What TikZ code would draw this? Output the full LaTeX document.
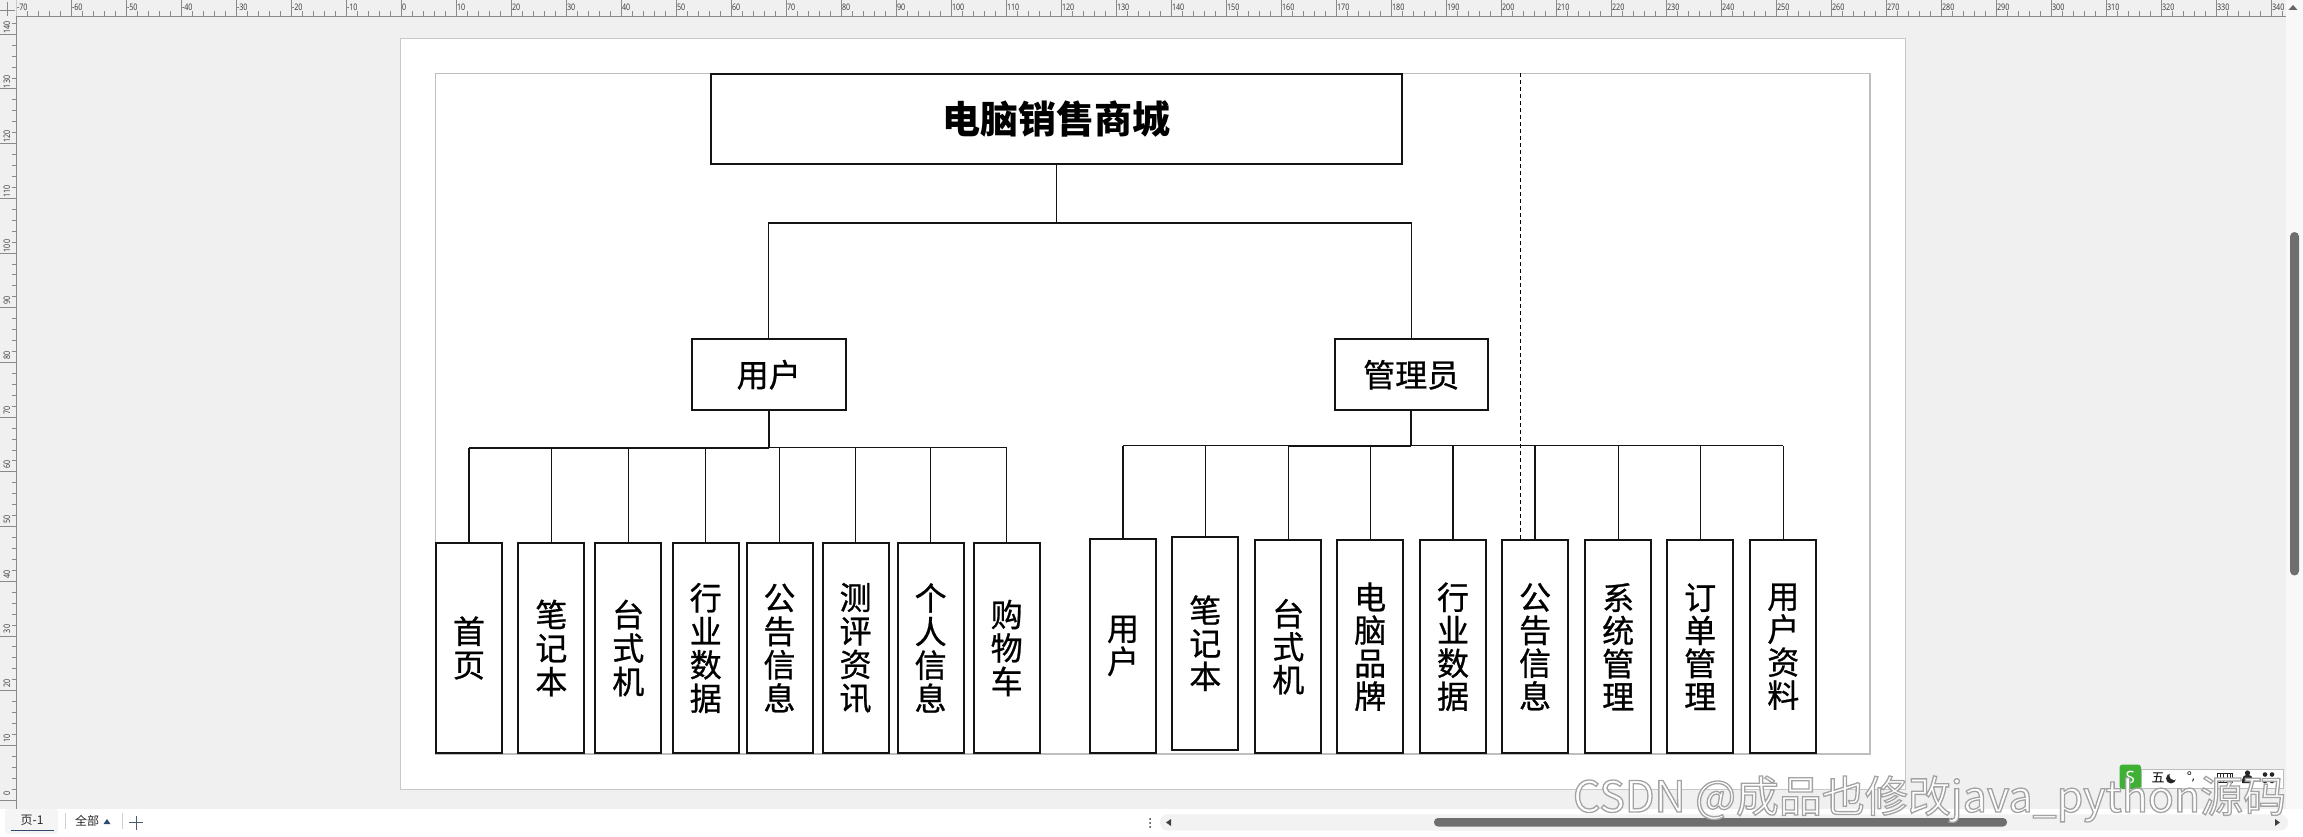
\documentclass[tikz,border=0pt]{standalone}
\usepackage{fontspec}
\setmainfont{Noto Sans CJK SC}
\newfontfamily\cjk[FakeBold=0.8]{Noto Sans CJK SC}
\newfontfamily\cjkplain{Noto Sans CJK SC}
\newfontfamily\uifont{Noto Sans}
\usetikzlibrary{calc}
\definecolor{canvas}{HTML}{F0F0F0}
\definecolor{rulerc}{HTML}{8A8A8A}
\definecolor{rulertext}{HTML}{404040}
\definecolor{pagec}{HTML}{C8C8C8}
\definecolor{innerc}{HTML}{BEBEBE}
\definecolor{boxc}{HTML}{141414}
\definecolor{stripc}{HTML}{F8F8F8}
\definecolor{trackc}{HTML}{F2F2F2}
\definecolor{thumbc}{HTML}{6E6E6E}
\definecolor{tabblue}{HTML}{2E4A70}
\definecolor{sepc}{HTML}{D0D0D0}
\definecolor{plusc}{HTML}{4A5A70}
\definecolor{imeborder}{HTML}{BDBDBD}
\definecolor{sgreen}{HTML}{3EB135}
\begin{document}
\begin{tikzpicture}[x=1pt,y=-1pt,
  every node/.style={inner sep=0pt, outer sep=0pt},
  frame/.style={draw=boxc, line width=2pt, fill=white},
  leafl/.style={frame, minimum width=66pt, minimum height=209.4pt, align=center, font=\cjk\fontsize{32}{33.5}\selectfont},
  leafr/.style={frame, minimum width=66pt, minimum height=213.4pt, align=center, font=\cjk\fontsize{32}{33}\selectfont},
  role/.style={frame, minimum height=71.3pt, font=\cjk\fontsize{32}{32}\selectfont},
  conn/.style={draw=boxc, line width=1.3pt},
  trunk/.style={draw=boxc, line width=2.2pt},
  rtick/.style={draw=rulerc, line width=0.8pt},
  rlabel/.style={font=\uifont\fontsize{9}{9}\selectfont, text=rulertext},
  wm/.style={font=\cjkplain\fontsize{43}{43}\selectfont, anchor=base west, text=white},
]
\fill[canvas] (0,0) rectangle (2303,837);
\useasboundingbox (0,0) rectangle (2303,837);

% ---------- rulers ----------
\begin{scope}
\clip (16.5,0) rectangle (2286,16.5);
\foreach \u in {-70,-60,...,340}{
  \pgfmathsetmacro\xx{401+5.5*\u}
  \draw[rtick] (\xx,0) -- (\xx,16.5);
  \foreach \k in {1,2,3,4}{\draw[rtick] ({\xx+11*\k},11.5) -- ({\xx+11*\k},16.5);}
  \node[rlabel, anchor=west] (hl\u) at (\xx+1,7.5) {\scalebox{0.8}[1]{\u}};
}
\end{scope}
\begin{scope}
\clip (0,16.5) rectangle (16.5,808.5);
\foreach \v in {0,10,...,140}{
  \pgfmathsetmacro\yy{800-5.47*\v}
  \draw[rtick] (0,\yy) -- (16.5,\yy);
  \foreach \k in {1,2,3,4}{\draw[rtick] (11.5,{\yy-10.94*\k}) -- (16.5,{\yy-10.94*\k});}
  \node[rlabel, rotate=90] (vl\v) at (7,\yy-7) {\scalebox{0.8}[1]{\v}};
}
\end{scope}
\draw[rtick] (16.5,16.5) -- (2286,16.5);
\draw[rtick] (16.5,16.5) -- (16.5,808.5);
\draw[rtick] (0,10) -- (15,10);
\draw[rtick] (7.5,2) -- (7.5,16.5);

% ---------- page ----------
\draw[pagec, line width=1.2pt, fill=white] (400.5,38.3) rectangle (1905.3,789.3);
\draw[innerc, line width=1.2pt] (435.5,73.3) rectangle (1870,754);

% ---------- diagram ----------
\node[frame, minimum width=691.5pt, minimum height=90pt, font=\cjkplain\fontsize{38}{38}\selectfont\bfseries] (t) at (1056.7,119) {电脑销售商城};
\node[role, minimum width=154pt] (u) at (768.7,374.7) {用户};
\node[role, minimum width=153pt] (a) at (1411.2,374.8) {管理员};

\node[leafl] (l1) at (469,648) {首\\页};
\node[leafl] (l2) at (551.4,648) {笔\\记\\本};
\node[leafl] (l3) at (628.3,648) {台\\式\\机};
\node[leafl] (l4) at (705.7,648) {行\\业\\数\\据};
\node[leafl] (l5) at (779.5,648) {公\\告\\信\\息};
\node[leafl] (l6) at (855.5,648) {测\\评\\资\\讯};
\node[leafl] (l7) at (930.6,648) {个\\人\\信\\息};
\node[leafl] (l8) at (1006.7,648) {购\\物\\车};

\node[leafr] (r1) at (1123,646) {用\\户};
\node[leafr] (r2) at (1205.3,643.2) {笔\\记\\本};
\node[leafr] (r3) at (1288.3,646.7) {台\\式\\机};
\node[leafr] (r4) at (1370.2,646.7) {电\\脑\\品\\牌};
\node[leafr] (r5) at (1453,646.7) {行\\业\\数\\据};
\node[leafr] (r6) at (1535.1,646.7) {公\\告\\信\\息};
\node[leafr] (r7) at (1618.2,646.7) {系\\统\\管\\理};
\node[leafr] (r8) at (1700.2,646.7) {订\\单\\管\\理};
\node[leafr] (r9) at (1783.3,646.7) {用\\户\\资\\料};

\draw[black, line width=1.2pt, dash pattern=on 4pt off 3pt] (1520.7,73.3) -- (1520.7,73.3 |- r6.north);

\coordinate (h0) at (0,223);
\coordinate (bl) at (0,447.7);
\coordinate (br) at (0,445.7);
\draw[conn] (t.south) -- (t.south |- h0);
\draw[conn] (u.north) |- (a.north |- h0) -- (a.north);

\draw[trunk] (u.south) -- (u.south |- bl);
\draw[trunk] (l1.north |- bl) -- (u.south |- bl);
\draw[conn] (u.south |- bl) -- (l8.north |- bl);
\foreach \i in {1,...,8}{\draw[conn] (l\i.north) -- (l\i.north |- bl);}

\draw[trunk] (a.south) -- (a.south |- br);
\draw[conn] (r1.north |- br) -- (r9.north |- br);
\draw[trunk] (r3.north |- br) -- (a.south |- br);
\foreach \i in {1,...,9}{\draw[conn] (r\i.north) -- (r\i.north |- br);}

% ---------- right strip / scrollbar ----------
\fill[stripc] (2286,0) rectangle (2303,808.5);
\fill[black!60] (2288.5,10) -- (2297.5,10) -- (2293,5) -- cycle;
\fill[thumbc, rounded corners=4.5pt] (2290,232) rectangle (2299,575.5);

% ---------- bottom bar ----------
\fill[white] (0,808.5) rectangle (2303,837);
\fill[black!4, rounded corners=3pt] (5,809) rectangle (58,834);
\node[font=\cjkplain\fontsize{12}{12}\selectfont, text=black!85] (tab1) at (32,820) {页-1};
\draw[tabblue, line width=1.5pt] (11,830.5) -- (54,830.5);
\draw[sepc, line width=0.8pt] (65.6,813) -- (65.6,829);
\node[font=\cjkplain\fontsize{12}{12}\selectfont, text=black!85] (tab2) at (87,821) {全部};
\fill[tabblue] (103.5,824) -- (110.5,824) -- (107,819) -- cycle;
\draw[sepc, line width=0.8pt] (122.8,813) -- (122.8,829);
\draw[plusc, line width=1pt] (129,822.5) -- (143,822.5) (136,815.5) -- (136,829.5);
\foreach \d in {-4,0,4}{\fill[black!80] (1150,823+\d) circle (1pt);}
\fill[trackc, rounded corners=8pt] (1160,814.3) rectangle (2288,830.7);
\fill[black!75] (1166,822.5) -- (1171,819) -- (1171,826) -- cycle;
\fill[black!75] (2280,822.5) -- (2275,819) -- (2275,826) -- cycle;
\fill[thumbc, rounded corners=4pt] (1434,818) rectangle (2007,826.5);

% ---------- IME bar ----------
\draw[imeborder, line width=0.8pt, fill=white] (2141,769) rectangle (2283,788);
\fill[sgreen, rounded corners=3pt] (2119.5,764.5) rectangle (2141,789);
\node[font=\uifont\bfseries\fontsize{17}{17}\selectfont, text=white] (imes) at (2130.3,777) {S};
\node[font=\cjkplain\fontsize{13}{13}\selectfont] (ime1) at (2158,778) {五};
\fill[black!85] (2171,778.5) circle (5pt);
\fill[white] (2174,775.5) circle (4.6pt);
\node[font=\uifont\bfseries\fontsize{12}{12}\selectfont] (ime2) at (2191,777) {°,};
\draw[black!85, line width=1pt] (2217,773.5) rectangle (2232,782.5);
\foreach \kx in {2220,2223.5,2227,2230}{\draw[black!85, line width=0.8pt] (\kx,774) -- (\kx,782);}
\fill[black!85] (2247.5,773) circle (2.6pt);
\fill[black!85] (2242,783) -- (2242,780) arc (180:0:5.5pt) -- (2253,783) -- cycle;
\foreach \px/\py in {2265/774.5,2272/774.5,2265/781,2272/781}{\fill[black!85] (\px,\py) circle (2.3pt);}

% ---------- watermark (white fill, grey outline) ----------
\node[wm] (wmtext) at (1573,812) {\special{pdf:literal direct 2 Tr 1.3 w 0.64 G}CSDN @成品也修改java\_python源码\special{pdf:literal direct 0 Tr}};
\end{tikzpicture}
\end{document}
